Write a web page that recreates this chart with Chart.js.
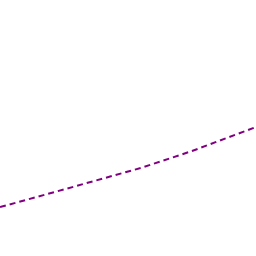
<!DOCTYPE html>
<html>
<head>
<meta charset="utf-8">
<script src="https://cdn.jsdelivr.net/npm/chart.js@4/dist/chart.umd.min.js"></script>
<style>
  html, body { margin: 0; padding: 0; background: #fff; }
  #wrap { width: 256px; height: 256px; }
</style>
</head>
<body>
<div id="wrap"><canvas id="c"></canvas></div>
<script>
// Values (axes are hidden)
const xValues = [0, 25, 55, 75, 100];
const yValues = [19.1, 26.0, 34.4, 41.0, 50.4];

const ctx = document.getElementById("c").getContext("2d");
new Chart(ctx, {
  type: "line",
  data: {
    datasets: [{
      data: xValues.map((x, i) => ({ x: x, y: yValues[i] })),
      borderColor: "#800080",
      borderWidth: 2,
      borderDash: [6, 4],
      pointRadius: 0,
      tension: 0,
      fill: false
    }]
  },
  options: {
    responsive: true,
    maintainAspectRatio: false,
    animation: false,
    layout: { padding: 0 },
    plugins: { legend: { display: false }, tooltip: { enabled: false } },
    scales: {
      x: { type: "linear", min: 0, max: 100, display: false },
      y: { min: 0, max: 100, display: false }
    }
  }
});
</script>
</body>
</html>
